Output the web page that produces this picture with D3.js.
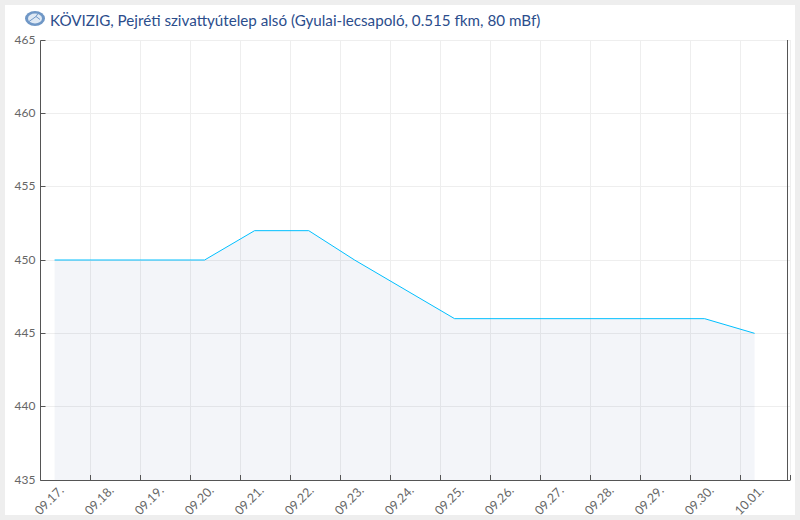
<!DOCTYPE html>
<html>
<head>
<meta charset="utf-8">
<script src="https://cdn.jsdelivr.net/npm/d3@7"></script>
<style>
html, body { margin: 0; padding: 0; background: #eeeeee; }
svg { display: block; }
text { font-family: Lato, sans-serif; }
</style>
</head>
<body>
<div id="chart"></div>
<script>
const titleText = "KÖVIZIG, Pejréti szivattyútelep alsó (Gyulai-lecsapoló, 0.515 fkm, 80 mBf)";
const times = ["2019-09-17T07:00Z", "2019-09-20T07:00Z", "2019-09-21T07:00Z", "2019-09-22T09:00Z",
    "2019-09-23T07:00Z", "2019-09-25T07:00Z", "2019-09-30T07:00Z", "2019-10-01T07:00Z"];
const levels = [450, 450, 452, 452, 450, 446, 446, 445];
const yTicks = [435, 440, 445, 450, 455, 460, 465];
const xTicks = ["2019-09-17", "2019-09-18", "2019-09-19", "2019-09-20", "2019-09-21", "2019-09-22",
    "2019-09-23", "2019-09-24", "2019-09-25", "2019-09-26", "2019-09-27", "2019-09-28",
    "2019-09-29", "2019-09-30", "2019-10-01", "2019-10-02"];

const width = 800, height = 520;
const margin = {top: 40, right: 10, bottom: 40, left: 40};

const svg = d3.select("#chart").append("svg")
    .attr("width", width)
    .attr("height", height);

svg.append("rect")
    .attr("x", 5).attr("y", 5)
    .attr("width", 790).attr("height", 510)
    .attr("fill", "#fff");

const xScale = d3.scaleUtc()
    .domain([new Date(xTicks[0]), new Date(xTicks[xTicks.length - 1])])
    .range([margin.left, width - margin.right]);
const yScale = d3.scaleLinear()
    .domain([435, 465])
    .range([height - margin.bottom, margin.top]);
// grid and tick lines sit on whole pixels
const crispY = v => Math.floor(yScale(v)) + 0.5;

const data = times.map((t, i) => ({date: new Date(t), value: levels[i]}));

// grid first, the area sits on top and darkens it a bit
const grid = svg.append("g").attr("stroke", "#eeeeee").attr("stroke-width", 1);
grid.selectAll("line.v").data(xTicks.slice(1)).enter().append("line")
    .attr("class", "v")
    .attr("x1", d => xScale(new Date(d)) + 0.5).attr("x2", d => xScale(new Date(d)) + 0.5)
    .attr("y1", yScale(465)).attr("y2", yScale(435));
grid.selectAll("line.h").data(yTicks.slice(1)).enter().append("line")
    .attr("class", "h")
    .attr("x1", margin.left).attr("x2", xScale.range()[1] + 0.5)
    .attr("y1", crispY).attr("y2", crispY);

const area = d3.area()
    .x(d => xScale(d.date))
    .y0(yScale(435))
    .y1(d => yScale(d.value));
const line = d3.line()
    .x(d => xScale(d.date))
    .y(d => yScale(d.value));

svg.append("path").datum(data)
    .attr("d", area)
    .attr("fill", "#1c3f8c")
    .attr("fill-opacity", 0.05);
svg.append("path").datum(data)
    .attr("d", line)
    .attr("fill", "none")
    .attr("stroke", "#00bfff")
    .attr("stroke-width", 1);

const xAxis = d3.axisBottom(xScale)
    .tickValues(xTicks.map(d => new Date(d)))
    .tickSizeInner(-5)
    .tickSizeOuter(0)
    .tickFormat((d, i) => i < xTicks.length - 1 ? d3.utcFormat("%m.%d.")(d) : "");
const xG = svg.append("g")
    .attr("transform", "translate(0," + yScale(435) + ")")
    .call(xAxis);
xG.select(".domain").attr("stroke", "#555");
xG.selectAll("line").attr("stroke", "#555");
xG.selectAll("text")
    .attr("fill", "#666")
    .style("font-size", "12.5px")
    .attr("text-anchor", "end")
    .attr("transform", "translate(21,8) rotate(-45)")
    .attr("x", 0).attr("y", 0).attr("dy", "0.35em");

const yAxis = d3.axisLeft(yScale)
    .tickValues(yTicks)
    .tickSizeInner(-5)
    .tickSizeOuter(0)
    .tickPadding(5);
const yG = svg.append("g")
    .attr("transform", "translate(" + margin.left + ",0)")
    .call(yAxis);
yG.selectAll(".tick").attr("transform", d => "translate(0.5," + crispY(d) + ")");
yG.select(".domain").attr("stroke", "#555");
yG.selectAll("line").attr("stroke", "#555");
yG.selectAll("text")
    .attr("fill", "#666")
    .attr("dy", "0.3em")
    .style("font-size", "12px");

// right border
svg.append("line")
    .attr("x1", 787.5).attr("x2", 787.5)
    .attr("y1", yScale(465)).attr("y2", yScale(435) + 0.5)
    .attr("stroke", "#555");

// logo in front of the title
const icon = svg.append("g").attr("transform", "translate(35,18.5)");
icon.append("ellipse").attr("rx", 10).attr("ry", 7.5).attr("fill", "#6f97c6");
icon.append("ellipse").attr("rx", 7).attr("ry", 5).attr("fill", "#dfe9f4");
icon.append("path").attr("d", "M-6,3L1,-2L5,1M1,-2L3,-5")
    .attr("fill", "none").attr("stroke", "#6f97c6").attr("stroke-width", 1);

svg.append("text")
    .attr("x", 50).attr("y", 26)
    .attr("fill", "#2b4d8c")
    .style("font-size", "15.2px")
    .text(titleText);
</script>
</body>
</html>
